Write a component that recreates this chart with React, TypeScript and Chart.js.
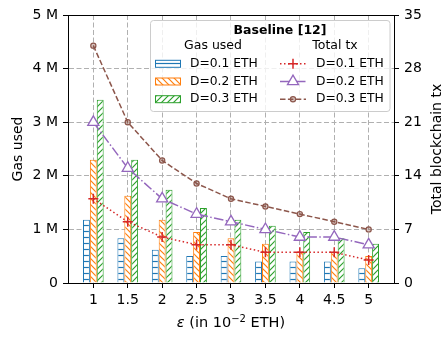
import React, { useEffect, useRef } from 'react';
import { Chart, registerables } from 'chart.js';

Chart.register(...registerables);

// ---- data ----
const epsilonValues = [1, 1.5, 2, 2.5, 3, 3.5, 4, 4.5, 5];
const xTickLabels = ['1', '1.5', '2', '2.5', '3', '3.5', '4', '4.5', '5'];

// Gas used (in millions)
const gasD01 = [1.18, 0.835, 0.62, 0.505, 0.505, 0.4, 0.4, 0.4, 0.275];
const gasD02 = [2.3, 1.63, 1.18, 0.95, 0.835, 0.73, 0.585, 0.585, 0.505];
const gasD03 = [3.42, 2.3, 1.74, 1.4, 1.18, 1.07, 0.95, 0.835, 0.73];

// Total blockchain tx
const txD01 = [11, 8, 6, 5, 5, 4, 4, 4, 3];
const txD02 = [21, 15, 11, 9, 8, 7, 6, 6, 5];
const txD03 = [31, 21, 16, 13, 11, 10, 9, 8, 7];

const seriesLabels = ['D=0.1 ETH', 'D=0.2 ETH', 'D=0.3 ETH'];
const legendTitle = 'Baseline [12]';
const legendHeaders = ['Gas used', 'Total tx'];
const yLeftTitle = 'Gas used';
const yRightTitle = 'Total blockchain tx';

const gasMax = 5;
const gasStep = 1;
const txMax = 35;
const txStep = 7;

const BLUE = '#1f77b4';
const ORANGE = '#ff7f0e';
const GREEN = '#2ca02c';
const RED = '#d62728';
const PURPLE = '#9467bd';
const BROWN = '#8c564b';
const FONT = '"DejaVu Sans", sans-serif';

function makeHatch(color: string, kind: string): CanvasPattern {
  const size = 6;
  const c = document.createElement('canvas');
  c.width = size;
  c.height = size;
  const g = c.getContext('2d')!;
  g.fillStyle = '#ffffff';
  g.fillRect(0, 0, size, size);
  g.strokeStyle = color;
  g.lineWidth = 1.2;
  g.beginPath();
  if (kind === '-') {
    g.moveTo(0, 3.5);
    g.lineTo(size, 3.5);
  } else if (kind === '\\') {
    g.moveTo(0, 0);
    g.lineTo(size, size);
    g.moveTo(-1, size - 1);
    g.lineTo(1, size + 1);
    g.moveTo(size - 1, -1);
    g.lineTo(size + 1, 1);
  } else {
    g.moveTo(0, size);
    g.lineTo(size, 0);
    g.moveTo(-1, 1);
    g.lineTo(1, -1);
    g.moveTo(size - 1, size + 1);
    g.lineTo(size + 1, size - 1);
  }
  g.stroke();
  return g.createPattern(c, 'repeat')!;
}

function pts(values: number[]) {
  return epsilonValues.map((x, i) => ({ x, y: values[i] }));
}

function drawMarker(ctx: CanvasRenderingContext2D, style: string, x: number, y: number, r: number, stroke: string, fill: string, lw: number) {
  ctx.save();
  ctx.setLineDash([]);
  ctx.lineWidth = lw;
  ctx.strokeStyle = stroke;
  ctx.fillStyle = fill;
  ctx.beginPath();
  if (style === 'cross') {
    ctx.moveTo(x - r, y);
    ctx.lineTo(x + r, y);
    ctx.moveTo(x, y - r);
    ctx.lineTo(x, y + r);
    ctx.stroke();
  } else if (style === 'triangle') {
    let rad = 0;
    ctx.moveTo(x + Math.sin(rad) * r, y - Math.cos(rad) * r);
    rad += (2 * Math.PI) / 3;
    ctx.lineTo(x + Math.sin(rad) * r, y - Math.cos(rad) * r);
    rad += (2 * Math.PI) / 3;
    ctx.lineTo(x + Math.sin(rad) * r, y - Math.cos(rad) * r);
    ctx.closePath();
    ctx.fill();
    ctx.stroke();
  } else {
    ctx.arc(x, y, r, 0, Math.PI * 2);
    ctx.fill();
    ctx.stroke();
  }
  ctx.restore();
}

const framePlugin = {
  id: 'frameAndLegend',
  afterDraw(chart: any) {
    const ctx: CanvasRenderingContext2D = chart.ctx;
    const area = chart.chartArea;
    ctx.save();

    // top spine
    ctx.strokeStyle = '#000';
    ctx.lineWidth = 1;
    ctx.beginPath();
    ctx.moveTo(Math.round(area.left), Math.round(area.top) + 0.5);
    ctx.lineTo(Math.round(area.right) + 1, Math.round(area.top) + 0.5);
    ctx.stroke();

    // y axis titles
    ctx.fillStyle = '#000';
    ctx.font = `14px ${FONT}`;
    ctx.textAlign = 'center';
    ctx.textBaseline = 'alphabetic';
    const cy = (area.top + area.bottom) / 2;
    ctx.save();
    ctx.translate(22, cy);
    ctx.rotate(-Math.PI / 2);
    ctx.fillText(yLeftTitle, 0, 0);
    ctx.restore();
    ctx.save();
    ctx.translate(441, cy);
    ctx.rotate(-Math.PI / 2);
    ctx.fillText(yRightTitle, 0, 0);
    ctx.restore();

    // x axis title with italic epsilon and superscript
    const parts = [
      { t: 'ε', font: `italic 14.5px ${FONT}`, dy: 0 },
      { t: ' (in 10', font: `14.5px ${FONT}`, dy: 0 },
      { t: '−2', font: `10px ${FONT}`, dy: -5.5 },
      { t: ' ETH)', font: `14.5px ${FONT}`, dy: 0 },
    ];
    let total = 0;
    const widths = parts.map((p) => {
      ctx.font = p.font;
      const w = ctx.measureText(p.t).width;
      total += w;
      return w;
    });
    let x0 = (area.left + area.right) / 2 - total / 2;
    ctx.textAlign = 'left';
    parts.forEach((p, i) => {
      ctx.font = p.font;
      ctx.fillText(p.t, x0, 327 + p.dy);
      x0 += widths[i];
    });

    // legend
    const bx = 150.5, by = 20.5, bw = 239.5, bh = 91, br = 3;
    ctx.beginPath();
    ctx.moveTo(bx + br, by);
    ctx.lineTo(bx + bw - br, by);
    ctx.arcTo(bx + bw, by, bx + bw, by + br, br);
    ctx.lineTo(bx + bw, by + bh - br);
    ctx.arcTo(bx + bw, by + bh, bx + bw - br, by + bh, br);
    ctx.lineTo(bx + br, by + bh);
    ctx.arcTo(bx, by + bh, bx, by + bh - br, br);
    ctx.lineTo(bx, by + br);
    ctx.arcTo(bx, by, bx + br, by, br);
    ctx.closePath();
    ctx.fillStyle = 'rgba(255,255,255,0.8)';
    ctx.fill();
    ctx.strokeStyle = '#cccccc';
    ctx.lineWidth = 1;
    ctx.stroke();

    ctx.fillStyle = '#000';
    ctx.textAlign = 'center';
    ctx.textBaseline = 'middle';
    ctx.font = `bold 12.5px ${FONT}`;
    ctx.fillText(legendTitle, 280, 31);
    ctx.font = `12.5px ${FONT}`;
    ctx.fillText(legendHeaders[0], 213, 46);
    ctx.fillText(legendHeaders[1], 335, 46);

    const rows = [63.8, 81.5, 99.2];
    const ds = chart.data.datasets;
    const bars = ds.filter((d: any) => d.type === 'bar');
    const lines = ds.filter((d: any) => d.type === 'line');
    ctx.textAlign = 'left';
    ctx.font = `12.3px ${FONT}`;
    rows.forEach((ry, i) => {
      const b = bars[i];
      if (b) {
        ctx.fillStyle = b.backgroundColor;
        ctx.fillRect(155.5, ry - 3.5, 25, 7);
        ctx.strokeStyle = b.borderColor;
        ctx.lineWidth = 1;
        ctx.strokeRect(155.5, ry - 3.5, 25, 7);
        ctx.fillStyle = '#000';
        ctx.fillText(b.label, 190, ry);
      }
      const l = lines[i];
      if (l) {
        ctx.save();
        ctx.strokeStyle = l.borderColor;
        ctx.lineWidth = l.borderWidth;
        ctx.setLineDash(l.borderDash || []);
        ctx.beginPath();
        ctx.moveTo(280, ry);
        ctx.lineTo(306, ry);
        ctx.stroke();
        ctx.restore();
        drawMarker(ctx, l.pointStyle, 293, ry, l.pointRadius, l.pointBorderColor, l.pointBackgroundColor, l.pointBorderWidth);
        ctx.fillStyle = '#000';
        ctx.fillText(l.label, 316, ry);
      }
    });

    ctx.restore();
  },
};

export default function App() {
  const ref = useRef<HTMLCanvasElement>(null);

  useEffect(() => {
    document.body.style.margin = '0';
    const canvas = ref.current;
    if (!canvas) return;

    Chart.defaults.font.family = FONT;
    Chart.defaults.font.size = 14;
    Chart.defaults.color = '#000';

    const hatchBlue = makeHatch(BLUE, '-');
    const hatchOrange = makeHatch(ORANGE, '\\');
    const hatchGreen = makeHatch(GREEN, '/');

    const barCommon = {
      type: 'bar' as const,
      yAxisID: 'y',
      xAxisID: 'x',
      borderWidth: 1,
      barPercentage: 1,
      categoryPercentage: 0.6,
      order: 1,
    };
    const lineCommon = {
      type: 'line' as const,
      yAxisID: 'y1',
      xAxisID: 'x',
      borderWidth: 1.5,
      fill: false,
      tension: 0,
      order: 0,
    };

    const chart = new Chart(canvas, {
      type: 'bar',
      data: {
        datasets: [
          {
            ...lineCommon,
            label: seriesLabels[0],
            data: pts(txD01),
            borderColor: RED,
            borderDash: [1.5, 2.5],
            pointStyle: 'cross',
            pointRadius: 5,
            pointBorderWidth: 1.5,
            pointBorderColor: RED,
            pointBackgroundColor: RED,
          },
          {
            ...lineCommon,
            label: seriesLabels[1],
            data: pts(txD02),
            borderColor: PURPLE,
            borderDash: [9.6, 2.4, 1.5, 2.4],
            pointStyle: 'triangle',
            pointRadius: 6.4,
            pointBorderWidth: 1.3,
            pointBorderColor: PURPLE,
            pointBackgroundColor: '#ffffff',
          },
          {
            ...lineCommon,
            label: seriesLabels[2],
            data: pts(txD03),
            borderColor: BROWN,
            borderDash: [5.5, 2.4],
            pointStyle: 'circle',
            pointRadius: 2.6,
            pointBorderWidth: 1.2,
            pointBorderColor: BROWN,
            pointBackgroundColor: 'rgba(140,86,75,0.35)',
          },
          { ...barCommon, label: seriesLabels[0], data: pts(gasD01), backgroundColor: hatchBlue, borderColor: BLUE },
          { ...barCommon, label: seriesLabels[1], data: pts(gasD02), backgroundColor: hatchOrange, borderColor: ORANGE },
          { ...barCommon, label: seriesLabels[2], data: pts(gasD03), backgroundColor: hatchGreen, borderColor: GREEN },
        ] as any,
      },
      options: {
        responsive: false,
        animation: false,
        devicePixelRatio: 1,
        events: [],
        layout: { padding: { top: 15, left: 0, right: 0, bottom: 0 } },
        plugins: {
          legend: { display: false },
          tooltip: { enabled: false },
        },
        scales: {
          x: {
            type: 'linear',
            min: 0.632,
            max: 5.368,
            offset: false,
            afterBuildTicks: (scale: any) => {
              scale.ticks = epsilonValues.map((v) => ({ value: v }));
            },
            afterFit: (scale: any) => {
              scale.height = 56;
            },
            grid: {
              offset: false,
              color: '#b0b0b0',
              lineWidth: 1,
              tickLength: 5,
              tickColor: '#000',
              tickWidth: 1,
            },
            border: { display: true, color: '#000', width: 1, dash: [5, 2.5] },
            ticks: {
              padding: 4,
              color: '#000',
              font: { size: 14 },
              maxRotation: 0,
              autoSkip: false,
              callback: (_v: any, i: number) => xTickLabels[i] ?? '',
            },
          },
          y: {
            type: 'linear',
            position: 'left',
            min: 0,
            max: gasMax,
            afterFit: (scale: any) => {
              scale.width = 68;
            },
            grid: {
              color: '#b0b0b0',
              lineWidth: 1,
              tickLength: 5,
              tickColor: '#000',
              tickWidth: 1,
            },
            border: { display: true, color: '#000', width: 1, dash: [5, 2.5] },
            ticks: {
              stepSize: gasStep,
              padding: 5,
              color: '#000',
              font: { size: 14 },
              callback: (v: any) => (v === 0 ? '0' : `${v} M`),
            },
          },
          y1: {
            type: 'linear',
            position: 'right',
            min: 0,
            max: txMax,
            afterFit: (scale: any) => {
              scale.width = 48;
            },
            grid: {
              drawOnChartArea: false,
              tickLength: 5,
              tickColor: '#000',
              tickWidth: 1,
            },
            border: { display: true, color: '#000', width: 1 },
            ticks: {
              stepSize: txStep,
              padding: 5,
              color: '#000',
              font: { size: 14 },
            },
          },
        },
      } as any,
      plugins: [framePlugin],
    });

    return () => chart.destroy();
  }, []);

  return <canvas ref={ref} width={442} height={339} style={{ display: 'block', width: 442, height: 339 }} />;
}
